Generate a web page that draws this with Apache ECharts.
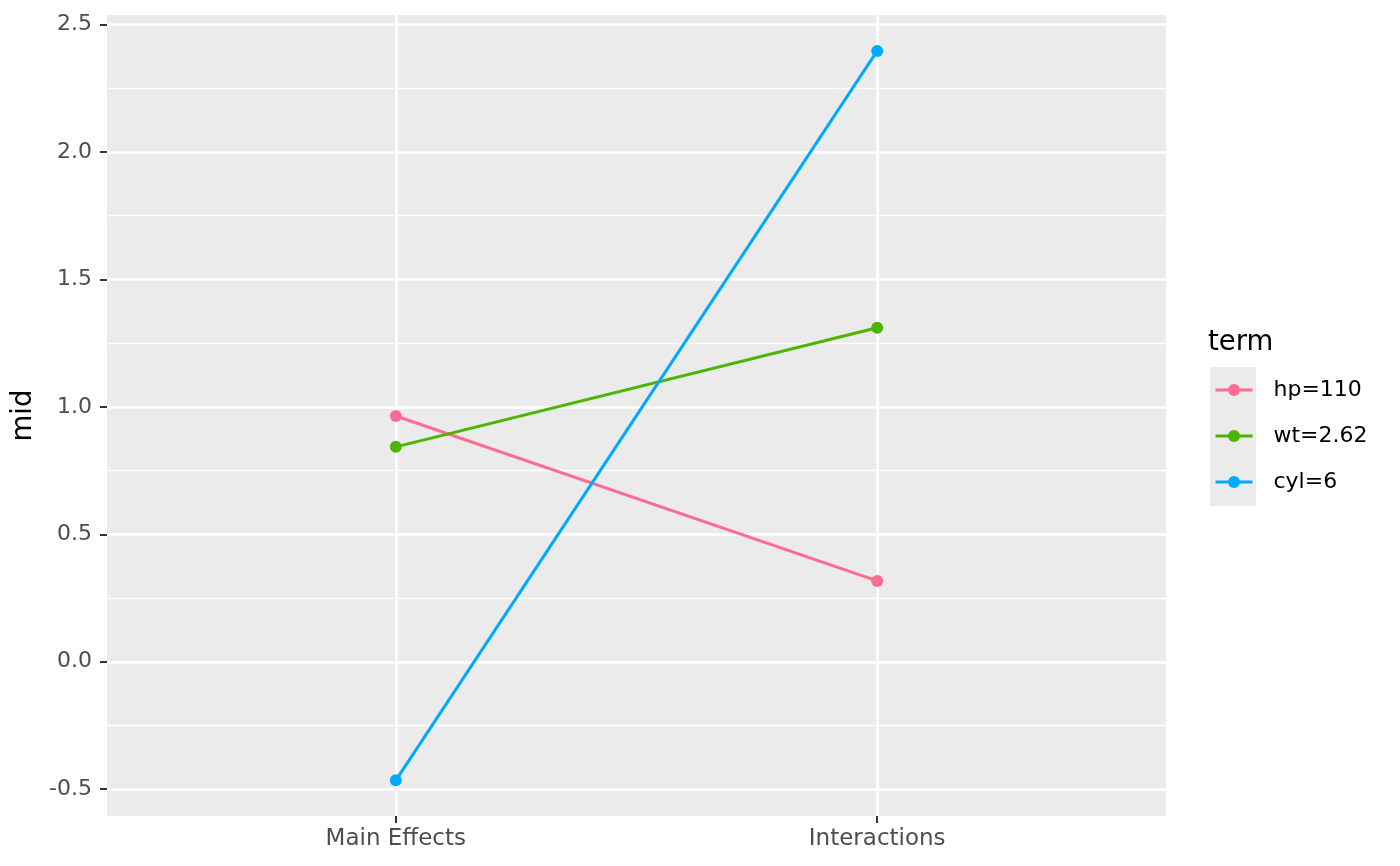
<!DOCTYPE html>
<html>
<head>
<meta charset="utf-8">
<script src="https://cdn.jsdelivr.net/npm/echarts@6/dist/echarts.min.js"></script>
<style>
  html, body { margin: 0; padding: 0; background: #fff; }
  #main { width: 1400px; height: 866px; }
</style>
</head>
<body>
<div id="main"></div>
<script>
// data
var categories = ['Main Effects', 'Interactions'];
var terms = ['hp=110', 'wt=2.62', 'cyl=6'];
var hpVals = [0.964, 0.317];
var wtVals = [0.843, 1.310];
var cylVals = [-0.465, 2.396];
var yTicks = [-0.5, 0, 0.5, 1, 1.5, 2, 2.5];
var yMinor = [-0.25, 0.25, 0.75, 1.25, 1.75, 2.25];
var colors = ['#FF6C91', '#4DB400', '#00A9FF'];

var font = 'DejaVu Sans';
var chart = echarts.init(document.getElementById('main'));

function pts(vals) {
  return vals.map(function (v, i) { return [i + 1, v]; });
}
var allVals = [hpVals, wtVals, cylVals];

chart.setOption({
  animation: false,
  color: colors,
  textStyle: { fontFamily: font },
  title: {
    text: 'term',
    left: 1208,
    top: 329,
    padding: 0,
    textStyle: { fontFamily: font, fontSize: 27.5, fontWeight: 'normal', color: '#000' }
  },
  graphic: [{
    type: 'rect',
    shape: { x: 1210, y: 367, width: 46, height: 139 },
    style: { fill: '#EBEBEB' },
    z: 0
  }],
  legend: {
    orient: 'vertical',
    left: 1214,
    top: 379,
    padding: 0,
    itemWidth: 37,
    itemHeight: 15,
    itemGap: 24,
    data: terms,
    lineStyle: { width: 3 },
    textStyle: { fontFamily: font, fontSize: 22, color: '#000', padding: [0, 0, 0, 16] }
  },
  grid: {
    left: 107, top: 15, right: 234, bottom: 50,
    show: true, backgroundColor: '#EBEBEB', borderWidth: 0
  },
  xAxis: {
    type: 'value',
    min: 0.4,
    max: 2.6,
    axisLine: { show: false, onZero: false },
    axisTick: { show: true, length: 7, customValues: [1, 2], lineStyle: { color: '#333', width: 2 } },
    axisLabel: {
      customValues: [1, 2],
      margin: 12,
      fontFamily: font, fontSize: 23, color: '#4D4D4D',
      formatter: function (v) { return categories[Math.round(v) - 1] || ''; }
    },
    splitLine: { show: true, lineStyle: { color: '#fff', width: 2.7 } }
  },
  yAxis: [{
    type: 'value',
    min: -0.605,
    max: 2.537,
    name: 'mid',
    nameLocation: 'middle',
    nameRotate: 90,
    nameGap: 65,
    nameTextStyle: { fontFamily: font, fontSize: 27.5, color: '#000' },
    axisLine: { show: false, onZero: false },
    axisTick: { show: true, length: 7, customValues: yTicks, lineStyle: { color: '#333', width: 2 } },
    axisLabel: {
      customValues: yTicks,
      margin: 15,
      fontFamily: font, fontSize: 22, color: '#4D4D4D',
      formatter: function (v) { return v.toFixed(1); }
    },
    splitLine: { show: true, lineStyle: { color: '#fff', width: 2.7 } }
  }, {
    type: 'value',
    min: -0.605,
    max: 2.537,
    position: 'left',
    axisLine: { show: false, onZero: false },
    axisTick: { show: false, customValues: yMinor },
    axisLabel: { show: false },
    splitLine: { show: true, lineStyle: { color: '#fff', width: 1.4 } }
  }],
  series: terms.map(function (name, k) {
    return {
      name: name,
      type: 'line',
      yAxisIndex: 0,
      data: pts(allVals[k]),
      symbol: 'circle',
      symbolSize: 12,
      lineStyle: { width: 3, color: colors[k] },
      itemStyle: { color: colors[k] },
      z: 3
    };
  })
});
</script>
</body>
</html>
